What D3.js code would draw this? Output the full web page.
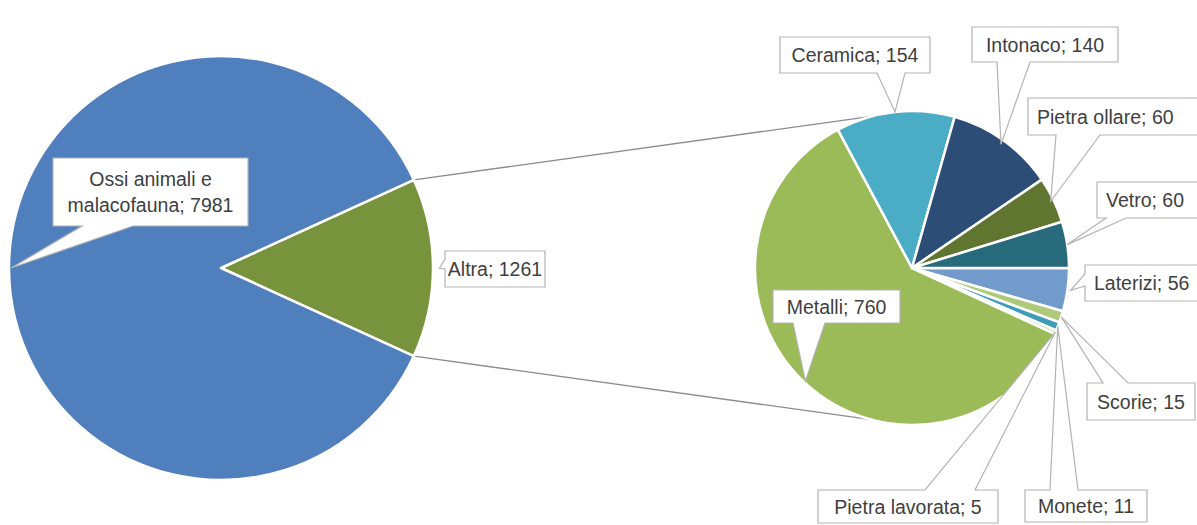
<!DOCTYPE html>
<html>
<head>
<meta charset="utf-8">
<script src="https://cdn.jsdelivr.net/npm/d3@7/dist/d3.min.js"></script>
<style>
  html, body { margin: 0; padding: 0; background: #ffffff; }
  svg { display: block; }
  text { font-family: "Liberation Sans", Arial, sans-serif; }
</style>
</head>
<body>
<svg id="chart" width="1197" height="525"></svg>
<script>
// ---- data ----
const mainCategories = ["Altra", "Ossi animali e malacofauna"];
const mainValues = [1261, 7981];
const subCategories = ["Laterizi", "Scorie", "Monete", "Pietra lavorata", "Metalli", "Ceramica", "Intonaco", "Pietra ollare", "Vetro"];
const subValues = [56, 15, 11, 5, 760, 154, 140, 60, 60];

// ---- styles ----
const mainColors = ["#77933c", "#4f7fbd"];
const subColors = ["#729aca", "#afc97a", "#3e9cba", "#d6e3bc", "#9bbb59", "#4bacc6", "#2c4d75", "#5f7530", "#276a7c"];

const svg = d3.select("#chart");

const mainC = { x: 221, y: 268, r: 212 };
const subC = { x: 912, y: 268, r: 157 };

const total = d3.sum(mainValues);
const altraSpan = 2 * Math.PI * mainValues[0] / total;
const mainStart = Math.PI / 2 - altraSpan / 2;

const mainPie = d3.pie().sort(null).value(d => d.v)
  .startAngle(mainStart).endAngle(mainStart + 2 * Math.PI);
const subPie = d3.pie().sort(null).value(d => d.v)
  .startAngle(Math.PI / 2).endAngle(Math.PI / 2 + 2 * Math.PI);

const mainArcs = mainPie(mainCategories.map((c, i) => ({ c, v: mainValues[i] })));
const subArcs = subPie(subCategories.map((c, i) => ({ c, v: subValues[i] })));

const mainArc = d3.arc().innerRadius(0).outerRadius(mainC.r);
const subArc = d3.arc().innerRadius(0).outerRadius(subC.r);

function polar(c, r, a) { return [c.x + r * Math.sin(a), c.y - r * Math.cos(a)]; }

// connector lines
const altra = mainArcs[0];
const p1 = polar(mainC, mainC.r, altra.startAngle);
const p2 = polar(mainC, mainC.r, altra.endAngle);
const q1 = polar(subC, subC.r, -15 * Math.PI / 180);
const q2 = polar(subC, subC.r, 195 * Math.PI / 180);
svg.append("line").attr("x1", p1[0]).attr("y1", p1[1]).attr("x2", q1[0]).attr("y2", q1[1])
  .attr("stroke", "#8c8c8c").attr("stroke-width", 1.3);
svg.append("line").attr("x1", p2[0]).attr("y1", p2[1]).attr("x2", q2[0]).attr("y2", q2[1])
  .attr("stroke", "#8c8c8c").attr("stroke-width", 1.3);

// pies
svg.append("g").attr("transform", `translate(${mainC.x},${mainC.y})`)
  .selectAll("path").data(mainArcs).join("path")
  .attr("d", mainArc).attr("fill", (d, i) => mainColors[i])
  .attr("stroke", "#ffffff").attr("stroke-width", 2.5).attr("stroke-linejoin", "round");

svg.append("g").attr("transform", `translate(${subC.x},${subC.y})`)
  .selectAll("path").data(subArcs).join("path")
  .attr("d", subArc).attr("fill", (d, i) => subColors[i])
  .attr("stroke", "#ffffff").attr("stroke-width", 2.5).attr("stroke-linejoin", "round");

// ---- callout layout ----
const layout = {
  "Ossi animali e malacofauna": { box: [53, 158, 195, 68], side: "bottom", b: [82, 133], rf: 0.99, lines: ["Ossi animali e", "malacofauna; 7981"] },
  "Altra": { box: [445, 251, 100, 36], side: "left", b: [259, 269], rf: 1.03 },
  "Ceramica": { box: [780, 37, 150, 36], side: "bottom", b: [877, 905], rf: 1.0 },
  "Intonaco": { box: [972, 27, 146, 35], side: "bottom", b: [997, 1030], rf: 0.97 },
  "Pietra ollare": { box: [1028, 98, 190, 37], side: "bottom", b: [1056, 1100], rf: 0.98, start: true },
  "Vetro": { box: [1097, 182, 120, 36], side: "bottom", b: [1106, 1126], rf: 1.0, start: true },
  "Laterizi": { box: [1085, 265, 130, 36], side: "left", b: [274, 286], rf: 1.02, start: true },
  "Metalli": { box: [773, 290, 127, 33], side: "bottom", b: [793, 825], rf: 0.99 },
  "Scorie": { box: [1087, 383, 108, 37], side: "top", b: [1103, 1128], rf: 1.0 },
  "Monete": { box: [1025, 490, 122, 32], side: "top", b: [1050, 1078], rf: 1.0 },
  "Pietra lavorata": { box: [818, 490, 180, 33], side: "top", b: [925, 975], rf: 1.0 }
};

function calloutPath(box, side, b, tip) {
  const [x, y, w, h] = box;
  const pts = [];
  pts.push([x, y]);
  if (side === "top") { pts.push([b[0], y], tip, [b[1], y]); }
  pts.push([x + w, y]);
  if (side === "right") { pts.push([x + w, b[0]], tip, [x + w, b[1]]); }
  pts.push([x + w, y + h]);
  if (side === "bottom") { pts.push([b[1], y + h], tip, [b[0], y + h]); }
  pts.push([x, y + h]);
  if (side === "left") { pts.push([x, b[1]], tip, [x, b[0]]); }
  return "M" + pts.map(p => p.join(",")).join("L") + "Z";
}

const labelG = svg.append("g");
function addLabel(name, value, arcDatum, center) {
  const L = layout[name];
  const mid = (arcDatum.startAngle + arcDatum.endAngle) / 2;
  const tip = polar(center, center.r * L.rf, mid);
  labelG.append("path").attr("d", calloutPath(L.box, L.side, L.b, tip))
    .attr("fill", "#ffffff").attr("stroke", "#b3b3b3").attr("stroke-width", 1.2);
  const lines = L.lines || [`${name}; ${value}`];
  const [x, y, w, h] = L.box;
  const lh = 26;
  const tx = L.start ? x + 9 : x + w / 2;
  const cy = y + h / 2 - (lines.length - 1) * lh / 2;
  lines.forEach((t, i) => {
    labelG.append("text").attr("x", tx).attr("y", cy + i * lh + 7)
      .attr("text-anchor", L.start ? "start" : "middle").attr("font-size", 19.5).attr("fill", "#404040")
      .text(t);
  });
}

mainArcs.forEach((d, i) => addLabel(mainCategories[i], mainValues[i], d, mainC));
subArcs.forEach((d, i) => addLabel(subCategories[i], subValues[i], d, subC));
</script>
</body>
</html>
